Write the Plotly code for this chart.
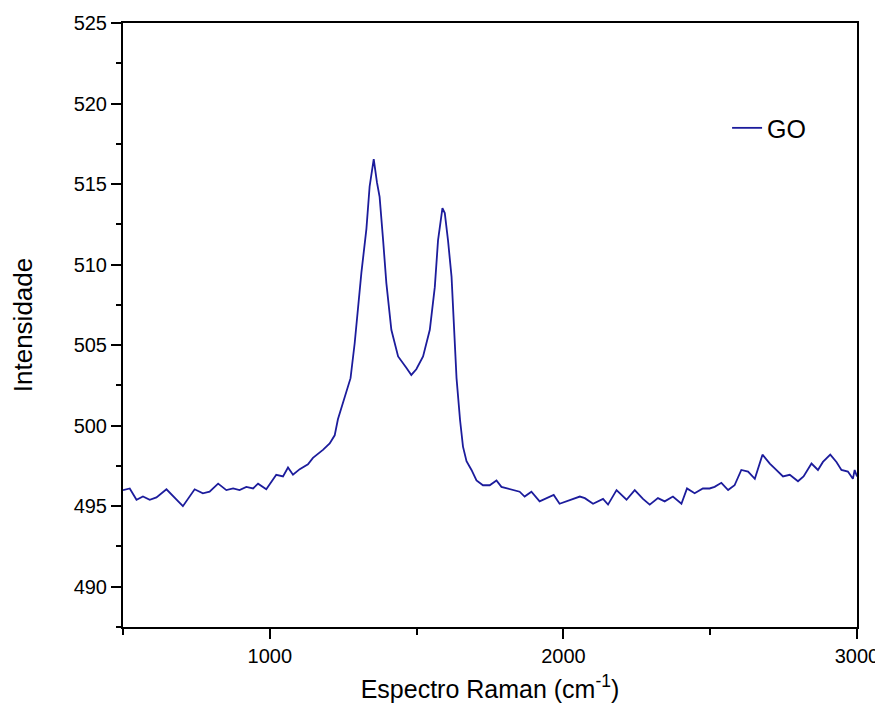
import plotly.graph_objects as go

# Raman shift (cm^-1) and intensity
raman_shift = [
    500, 523, 546, 568, 591, 614, 648, 676, 704, 744, 772, 795, 824, 852, 875, 897,
    920, 943, 960, 988, 1022, 1045, 1062, 1079, 1102, 1130, 1147, 1181, 1204, 1221,
    1232, 1275, 1289, 1312, 1329, 1340, 1354, 1365, 1374, 1386, 1397, 1414, 1437,
    1465, 1482, 1499, 1522, 1545, 1562, 1573, 1588, 1596, 1607, 1619, 1626, 1636,
    1648, 1658, 1670, 1687, 1704, 1726, 1749, 1772, 1789, 1817, 1851, 1868, 1891,
    1919, 1948, 1967, 1987, 2021, 2056, 2073, 2101, 2135, 2152, 2181, 2215, 2243,
    2271, 2294, 2322, 2345, 2373, 2402, 2421, 2447, 2475, 2498, 2515, 2538, 2561,
    2583, 2606, 2629, 2652, 2678, 2703, 2725, 2748, 2771, 2799, 2818, 2845, 2867,
    2884, 2909, 2930, 2947, 2969, 2986, 2992, 3000,
]
intensity = [
    496.0, 496.1, 495.4, 495.6, 495.4, 495.55, 496.05, 495.5, 495.0, 496.05, 495.8,
    495.9, 496.4, 496.0, 496.1, 496.0, 496.2, 496.1, 496.4, 496.05, 496.95, 496.85,
    497.4, 496.95, 497.3, 497.6, 498.0, 498.5, 498.9, 499.4, 500.4, 502.95, 505.1,
    509.5, 512.2, 514.85, 516.55, 515.1, 514.2, 511.5, 508.85, 505.95, 504.3, 503.6,
    503.15, 503.5, 504.3, 505.95, 508.6, 511.5, 513.5, 513.2, 511.5, 509.25, 506.8,
    502.95, 500.35, 498.7, 497.8, 497.25, 496.6, 496.3, 496.3, 496.6, 496.2, 496.05,
    495.9, 495.6, 495.9, 495.3, 495.55, 495.7, 495.15, 495.35, 495.6, 495.5, 495.15,
    495.45, 495.1, 496.0, 495.4, 496.0, 495.45, 495.1, 495.5, 495.3, 495.6, 495.15,
    496.1, 495.8, 496.1, 496.1, 496.2, 496.45, 496.0, 496.3, 497.25, 497.15, 496.7,
    498.2, 497.65, 497.25, 496.85, 496.95, 496.55, 496.85, 497.65, 497.25, 497.75,
    498.2, 497.75, 497.25, 497.15, 496.7, 497.25, 496.85,
]
series_name = "GO"

FONT = "Liberation Sans, Arial, sans-serif"

fig = go.Figure()
fig.add_trace(go.Scatter(
    x=raman_shift, y=intensity, mode="lines", name=series_name,
    line=dict(color="#1c1c9c", width=1.8),
))

axis_common = dict(
    showline=True, linecolor="black", linewidth=2, mirror=True,
    ticks="outside", ticklen=10, tickwidth=2, tickcolor="black",
    showgrid=False, zeroline=False,
    tickfont=dict(family=FONT, size=20, color="black"),
)

fig.update_xaxes(
    range=[500, 3000], tick0=1000, dtick=1000,
    minor=dict(dtick=500, tick0=500, ticks="outside", ticklen=6, tickwidth=2,
               tickcolor="black", showgrid=False),
    title=dict(text="Espectro Raman (cm<sup>-1</sup>)",
               font=dict(family=FONT, size=25, color="black"), standoff=14),
    **axis_common,
)
fig.update_yaxes(
    range=[487.5, 525], tick0=490, dtick=5,
    minor=dict(dtick=2.5, tick0=487.5, ticks="outside", ticklen=5, tickwidth=2,
               tickcolor="black", showgrid=False),
    title=dict(text="Intensidade",
               font=dict(family=FONT, size=26, color="black"), standoff=38),
    **axis_common,
)

# the page body adds an 8px margin, so the figure is made 8px smaller
fig.update_layout(
    width=875, height=715,
    margin=dict(l=115, r=26, t=15, b=96, autoexpand=False),
    paper_bgcolor="white", plot_bgcolor="white",
    showlegend=True,
    legend=dict(x=0.823, y=0.826, xanchor="left", yanchor="middle",
                bgcolor="rgba(0,0,0,0)",
                font=dict(family=FONT, size=25, color="black")),
)

fig.write_html("out.html")
